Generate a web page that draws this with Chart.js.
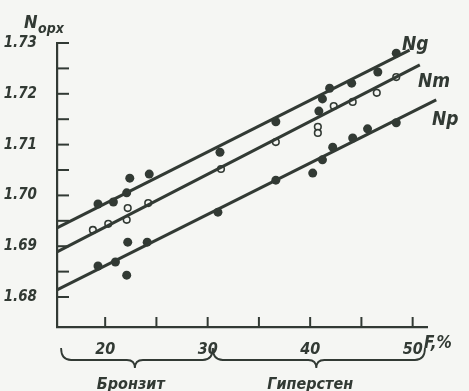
<!DOCTYPE html>
<html>
<head>
<meta charset="utf-8">
<script src="https://cdn.jsdelivr.net/npm/chart.js@4"></script>
<style>
  html, body { margin: 0; padding: 0; background: #f5f6f3; }
  #wrap { width: 469px; height: 391px; }
</style>
</head>
<body>
<div id="wrap"><canvas id="chart"></canvas></div>
<script>
// F, % (iron content) and refractive index N of orthopyroxene
const ngF = [19.3, 20.8, 22.1, 22.4, 24.3, 31.2, 36.65, 40.85, 41.2, 41.9, 44.05, 46.6, 48.4];
const ngN = [1.6983, 1.6987, 1.7005, 1.7034, 1.7042, 1.7085, 1.7145, 1.7166, 1.7190, 1.7211, 1.7221, 1.7243, 1.7280];

const nmF = [18.8, 20.3, 22.1, 22.2, 24.2, 31.3, 36.65, 40.75, 40.75, 42.3, 44.15, 46.5, 48.4];
const nmN = [1.6932, 1.6944, 1.6952, 1.6975, 1.6985, 1.7052, 1.7105, 1.7135, 1.7123, 1.7176, 1.7184, 1.7202, 1.7233];

const npF = [19.3, 21.0, 22.1, 22.2, 24.1, 31.0, 36.65, 40.25, 41.2, 42.2, 44.15, 45.6, 48.4];
const npN = [1.6861, 1.6869, 1.6843, 1.6908, 1.6908, 1.6967, 1.7030, 1.7044, 1.7070, 1.7095, 1.7113, 1.7131, 1.7143];

// regression lines (end points)
const ngLineF = [15.3, 49.7];
const ngLineN = [1.6936, 1.7286];
const nmLineF = [15.3, 50.7];
const nmLineN = [1.6889, 1.7257];
const npLineF = [15.3, 52.3];
const npLineN = [1.6814, 1.7188];

const xTicks = [20, 25, 30, 35, 40, 45, 50];
const yTicks = [1.68, 1.685, 1.69, 1.695, 1.70, 1.705, 1.71, 1.715, 1.72, 1.725, 1.73];

const ink = '#323a34';
const fontFamily = "'DejaVu Sans Condensed', 'DejaVu Sans', sans-serif";

function pts(xs, ys) {
    return xs.map((x, i) => ({ x: x, y: ys[i] }));
}

const decorations = {
    id: 'decorations',
    afterDraw(chart) {
        const ctx = chart.ctx;
        const xs = chart.scales.x;
        const ys = chart.scales.y;
        const area = chart.chartArea;
        ctx.save();
        ctx.strokeStyle = ink;
        ctx.fillStyle = ink;
        ctx.lineWidth = 2;
        // inward tick marks
        xTicks.forEach(v => {
            const px = xs.getPixelForValue(v);
            ctx.beginPath();
            ctx.moveTo(px, area.bottom);
            ctx.lineTo(px, area.bottom - 10);
            ctx.stroke();
        });
        yTicks.forEach(v => {
            const py = ys.getPixelForValue(v);
            ctx.beginPath();
            ctx.moveTo(area.left, py);
            ctx.lineTo(area.left + 12, py);
            ctx.stroke();
        });

        // axis titles
        ctx.textAlign = 'left';
        ctx.textBaseline = 'alphabetic';
        ctx.font = 'italic bold 18px ' + fontFamily;
        ctx.fillText('N', 24, 28);
        ctx.font = 'italic bold 14px ' + fontFamily;
        ctx.fillText('opx', 38, 33);
        ctx.font = 'italic bold 17px ' + fontFamily;
        ctx.fillText('F,%', 424, 348);

        // line labels
        ctx.font = 'italic bold 19px ' + fontFamily;
        ctx.fillText('Ng', 402, 50);
        ctx.fillText('Nm', 418, 87);
        ctx.fillText('Np', 432, 125);

        // braces under the axis
        ctx.lineWidth = 1.8;
        function brace(f0, f1, ft) {
            const x0 = xs.getPixelForValue(f0);
            const x1 = xs.getPixelForValue(f1);
            const xt = xs.getPixelForValue(ft);
            const yTop = 348, yMid = 360, yTip = 368;
            ctx.beginPath();
            ctx.moveTo(x0, yTop);
            ctx.quadraticCurveTo(x0, yMid, x0 + 10, yMid);
            ctx.lineTo(xt - 8, yMid);
            ctx.quadraticCurveTo(xt, yMid, xt, yTip);
            ctx.quadraticCurveTo(xt, yMid, xt + 8, yMid);
            ctx.lineTo(x1 - 10, yMid);
            ctx.quadraticCurveTo(x1, yMid, x1, yTop);
            ctx.stroke();
        }
        brace(15.7, 30.5, 22.9);
        brace(30.5, 51.2, 40.6);

        ctx.font = 'italic bold 16px ' + fontFamily;
        ctx.textAlign = 'center';
        ctx.fillText('Бронзит', xs.getPixelForValue(22.5), 389);
        ctx.fillText('Гиперстен', xs.getPixelForValue(40.0), 389);
        ctx.restore();
    }
};

const filled = { pointRadius: 4.5, pointBackgroundColor: ink, pointBorderColor: ink, pointBorderWidth: 0, showLine: false };
const hollow = { pointRadius: 3.3, pointBackgroundColor: '#f5f6f3', pointBorderColor: ink, pointBorderWidth: 1.6, showLine: false };
const line = { showLine: true, pointRadius: 0, borderColor: ink, borderWidth: 3, clip: false };

new Chart(document.getElementById('chart'), {
    type: 'scatter',
    data: {
        datasets: [
            Object.assign({ label: 'Ng line', data: pts(ngLineF, ngLineN) }, line),
            Object.assign({ label: 'Nm line', data: pts(nmLineF, nmLineN) }, line),
            Object.assign({ label: 'Np line', data: pts(npLineF, npLineN) }, line),
            Object.assign({ label: 'Ng', data: pts(ngF, ngN) }, filled),
            Object.assign({ label: 'Nm', data: pts(nmF, nmN) }, hollow),
            Object.assign({ label: 'Np', data: pts(npF, npN) }, filled)
        ]
    },
    options: {
        responsive: true,
        maintainAspectRatio: false,
        animation: false,
        layout: { padding: { top: 43, right: 42, left: 0, bottom: 0 } },
        plugins: { legend: { display: false }, tooltip: { enabled: false } },
        scales: {
            x: {
                type: 'linear',
                min: 15.3,
                max: 51.4,
                afterBuildTicks: s => { s.ticks = xTicks.map(v => ({ value: v })); },
                afterFit: s => { s.height = 64; },
                grid: { display: false },
                border: { display: true, color: ink, width: 2.2 },
                ticks: {
                    color: ink,
                    padding: 5,
                    maxRotation: 0,
                    autoSkip: false,
                    font: { family: fontFamily, size: 16, style: 'italic', weight: 'bold' },
                    callback: v => (v % 10 === 0 ? String(v) : '')
                }
            },
            y: {
                type: 'linear',
                min: 1.6741,
                max: 1.7300,
                afterBuildTicks: s => { s.ticks = yTicks.map(v => ({ value: v })); },
                afterFit: s => { s.width = 57; },
                grid: { display: false },
                border: { display: true, color: ink, width: 2.2 },
                ticks: {
                    color: ink,
                    padding: 12,
                    autoSkip: false,
                    font: { family: fontFamily, size: 15, style: 'italic', weight: 'bold' },
                    callback: v => (Math.round(v * 1000) % 10 === 0 ? v.toFixed(2) : '')
                }
            }
        }
    },
    plugins: [decorations]
});
</script>
</body>
</html>
